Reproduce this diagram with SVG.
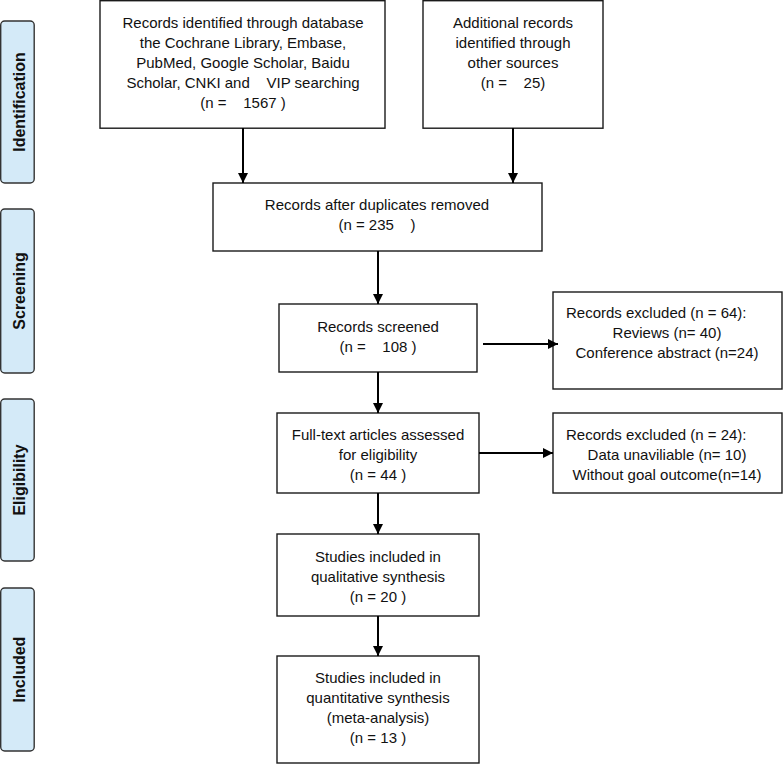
<svg xmlns="http://www.w3.org/2000/svg" width="784" height="764" viewBox="0 0 784 764">
<style>
.box{fill:#fff;stroke:#1a1a1a;stroke-width:1.4}
.side{fill:#d4eaf8;stroke:#333;stroke-width:1.4}
.t{font-family:"Liberation Sans",Arial,sans-serif;font-size:15px;fill:#111;text-anchor:middle;white-space:pre}
.tl{text-anchor:start}
.s{font-family:"Liberation Sans",Arial,sans-serif;font-size:16px;font-weight:bold;fill:#111;text-anchor:middle;dominant-baseline:central}
.c{stroke:#000;stroke-width:2;fill:none;marker-end:url(#ah)}
</style>
<defs>
<marker id="ah" viewBox="0 0 10 10" refX="10" refY="5" markerWidth="5" markerHeight="5" orient="auto" markerUnits="strokeWidth">
<path d="M0,0 L10,5 L0,10 z" fill="#000"/>
</marker>
</defs>
<g id="side-identification"><rect class="side" x="0.7" y="21" width="33.5" height="162" rx="4"/><text class="s" transform="translate(19,102) rotate(-90)">Identification</text></g>
<g id="side-screening"><rect class="side" x="0.7" y="209" width="33.5" height="164" rx="4"/><text class="s" transform="translate(19,291) rotate(-90)">Screening</text></g>
<g id="side-eligibility"><rect class="side" x="0.7" y="399" width="33.5" height="162" rx="4"/><text class="s" transform="translate(19,480) rotate(-90)">Eligibility</text></g>
<g id="side-included"><rect class="side" x="0.7" y="588" width="33.5" height="163" rx="4"/><text class="s" transform="translate(19,669.5) rotate(-90)">Included</text></g>

<g id="n-database"><rect class="box" x="100" y="0.7" width="285" height="127.5"/>
<text class="t" x="243" y="28">Records identified through database</text>
<text class="t" x="243" y="48">the Cochrane Library, Embase,</text>
<text class="t" x="243" y="68">PubMed, Google Scholar, Baidu</text>
<text class="t" x="243" y="88">Scholar, CNKI and    VIP searching</text>
<text class="t" x="243" y="108">(n =    1567 )</text></g>

<g id="n-additional"><rect class="box" x="423" y="0.7" width="180" height="127.5"/>
<text class="t" x="513" y="28">Additional records</text>
<text class="t" x="513" y="48">identified through</text>
<text class="t" x="513" y="68">other sources</text>
<text class="t" x="513" y="88">(n =    25)</text></g>

<g id="n-dup"><rect class="box" x="213" y="183" width="329" height="68"/>
<text class="t" x="377" y="210">Records after duplicates removed</text>
<text class="t" x="377" y="230">(n = 235    )</text></g>

<g id="n-screened"><rect class="box" x="279" y="304" width="198" height="68"/>
<text class="t" x="378" y="332">Records screened</text>
<text class="t" x="378" y="352">(n =    108 )</text></g>

<g id="n-excl1"><rect class="box" x="553" y="292" width="229" height="97"/>
<text class="t tl" x="566" y="318">Records excluded (n = 64):</text>
<text class="t" x="667" y="338">Reviews (n= 40)</text>
<text class="t" x="667" y="358">Conference abstract (n=24)</text></g>

<g id="n-fulltext"><rect class="box" x="277" y="413" width="202" height="80"/>
<text class="t" x="378" y="440">Full-text articles assessed</text>
<text class="t" x="378" y="460">for eligibility</text>
<text class="t" x="378" y="480">(n = 44 )</text></g>

<g id="n-excl2"><rect class="box" x="553" y="413" width="229" height="80"/>
<text class="t tl" x="566" y="440">Records excluded (n = 24):</text>
<text class="t" x="667" y="460">Data unaviliable (n= 10)</text>
<text class="t" x="667" y="480">Without goal outcome(n=14)</text></g>

<g id="n-qual"><rect class="box" x="277" y="534" width="202" height="82"/>
<text class="t" x="378" y="562">Studies included in</text>
<text class="t" x="378" y="582">qualitative synthesis</text>
<text class="t" x="378" y="602">(n = 20 )</text></g>

<g id="n-quant"><rect class="box" x="277" y="656" width="202" height="107"/>
<text class="t" x="378" y="683">Studies included in</text>
<text class="t" x="378" y="703">quantitative synthesis</text>
<text class="t" x="378" y="723">(meta-analysis)</text>
<text class="t" x="378" y="743">(n = 13 )</text></g>

<g id="connectors">
<path class="c" d="M243,128 V183"/>
<path class="c" d="M513,128 V183"/>
<path class="c" d="M378,251 V304"/>
<path class="c" d="M483,344 H558"/>
<path class="c" d="M378,372 V413"/>
<path class="c" d="M479,453 H553"/>
<path class="c" d="M378,493 V534"/>
<path class="c" d="M378,616 V656"/>
</g>
</svg>
